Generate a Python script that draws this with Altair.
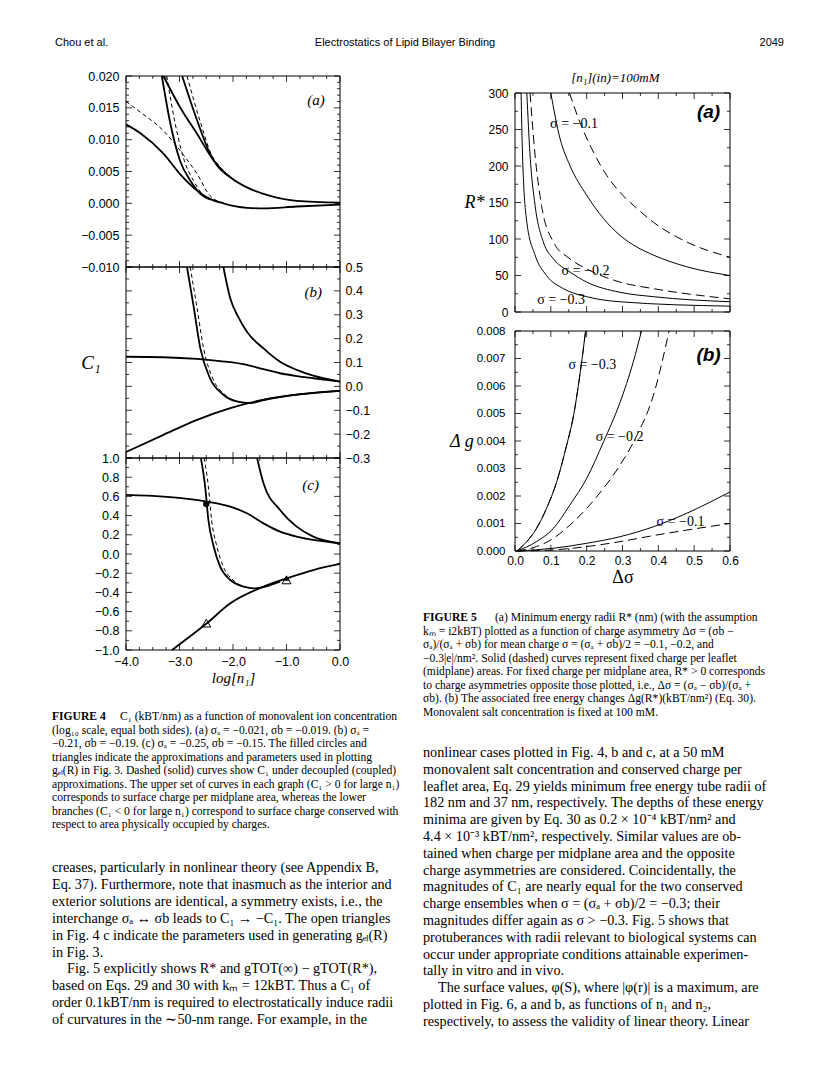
import altair as alt
import numpy as np
import pandas as pd

W, H = 800, 1062
SANS = "Liberation Sans"
SERIF = "Liberation Serif"

# ---------------- Figure 4 data (x = log[n1], y = C1) ----------------
f4a_lo_x = [-4.0, -3.73, -3.30, -2.99, -2.67, -2.43, -2.18, -1.74, -1.43, -0.81, 0.0]
f4a_lo_y = [0.0124, 0.0110, 0.0078, 0.0046, 0.0020, 0.0007, 0.0000, -0.0007, -0.0008, -0.0005, -0.0002]
f4a_lod_x = [-4.0, -3.73, -3.30, -2.99, -2.67, -2.43, -2.18]
f4a_lod_y = [0.0160, 0.0143, 0.0114, 0.0083, 0.0046, 0.0012, 0.0001]
f4a_st_x = [-3.33, -3.17, -2.99, -2.80, -2.61, -2.43]
f4a_st_y = [0.0200, 0.0125, 0.0067, 0.0036, 0.0015, 0.0006]
f4a_std_x = [-3.24, -3.08, -2.91, -2.74, -2.58, -2.43]
f4a_std_y = [0.0200, 0.0125, 0.0067, 0.0036, 0.0015, 0.0006]
f4a_up_x = [-3.30, -2.99, -2.67, -2.36, -2.05, -1.74, -1.43, -0.81, 0.0]
f4a_up_y = [0.0200, 0.0151, 0.0109, 0.0067, 0.0041, 0.0025, 0.0015, 0.0004, 0.0001]
f4a_up2_x = [-2.95, -2.67, -2.43, -2.30, -2.05]
f4a_up2_y = [0.0200, 0.0130, 0.0078, 0.0060, 0.0041]
f4a_upd_x = [-2.86, -2.60, -2.40, -2.25, -2.05]
f4a_upd_y = [0.0200, 0.0125, 0.0076, 0.0058, 0.0041]

f4b_flat_x = [-4.0, -3.3, -2.67, -2.2, -1.74, -1.43, -1.12, -0.81, -0.5, 0.0]
f4b_flat_y = [0.124, 0.122, 0.115, 0.105, 0.090, 0.072, 0.055, 0.043, 0.034, 0.020]
f4b_up_x = [-2.18, -2.05, -1.90, -1.74, -1.43, -1.12, -0.81, -0.5, 0.0]
f4b_up_y = [0.5, 0.368, 0.290, 0.229, 0.159, 0.103, 0.069, 0.045, 0.020]
f4b_mid_x = [-2.86, -2.74, -2.61, -2.43, -2.18, -1.93, -1.68, -1.43, -1.12, -0.81, -0.5, 0.0]
f4b_mid_y = [0.5, 0.34, 0.159, 0.034, -0.035, -0.063, -0.070, -0.058, -0.045, -0.035, -0.027, -0.019]
f4b_midd_x = [-2.80, -2.68, -2.55, -2.38, -2.15, -1.93, -1.68]
f4b_midd_y = [0.5, 0.34, 0.159, 0.034, -0.035, -0.063, -0.070]
f4b_lo_x = [-4.0, -3.3, -2.67, -2.05, -1.43, -0.81, 0.0]
f4b_lo_y = [-0.275, -0.203, -0.140, -0.091, -0.056, -0.035, -0.019]

f4c_flat_x = [-4.0, -3.3, -2.49, -2.05, -1.74, -1.43, -1.12, -0.81, -0.5, 0.0]
f4c_flat_y = [0.615, 0.597, 0.545, 0.493, 0.424, 0.319, 0.233, 0.181, 0.146, 0.111]
f4c_up_x = [-1.55, -1.43, -1.12, -0.81, -0.5, 0.0]
f4c_up_y = [1.0, 0.736, 0.458, 0.285, 0.181, 0.111]
f4c_mid_x = [-2.60, -2.52, -2.46, -2.36, -2.24, -2.05, -1.80, -1.62, -1.30, -1.12]
f4c_mid_y = [1.0, 0.70, 0.354, 0.076, -0.132, -0.271, -0.340, -0.358, -0.323, -0.288]
f4c_midd_x = [-2.54, -2.46, -2.40, -2.30, -2.18, -2.00, -1.80, -1.62]
f4c_midd_y = [1.0, 0.70, 0.354, 0.076, -0.132, -0.271, -0.340, -0.358]
f4c_lo_x = [-3.14, -2.49, -2.05, -1.43, -0.995, -0.5, 0.0]
f4c_lo_y = [-1.0, -0.722, -0.514, -0.340, -0.253, -0.167, -0.104]
f4c_circle_x = [-2.5]
f4c_circle_y = [0.52]
f4c_tri_open_x = [-2.5, -1.0]
f4c_tri_open_y = [-0.72, -0.27]
f4c_tri_fill_x = [-1.0]
f4c_tri_fill_y = [-0.25]

# ---------------- Figure 5 data (x = delta sigma) ----------------
f5a_s1_x = [0.100, 0.126, 0.153, 0.200, 0.247, 0.293, 0.340, 0.386, 0.479, 0.600]
f5a_s1_y = [300, 237, 201, 160, 128, 105, 89, 78, 62, 50]
f5a_d1_x = [0.152, 0.181, 0.219, 0.256, 0.293, 0.340, 0.386, 0.479, 0.600]
f5a_d1_y = [300, 260, 219, 187, 164, 142, 123, 96, 75]
f5a_s2_x = [0.033, 0.042, 0.056, 0.079, 0.107, 0.153, 0.200, 0.293, 0.386, 0.600]
f5a_s2_y = [300, 215, 146, 96, 73, 55, 41, 27, 21, 14]
f5a_d2_x = [0.042, 0.056, 0.074, 0.107, 0.153, 0.200, 0.293, 0.386, 0.600]
f5a_d2_y = [300, 215, 146, 96, 73, 59, 41, 32, 18]
f5a_s3_x = [0.017, 0.021, 0.033, 0.056, 0.088, 0.135, 0.200, 0.293, 0.600]
f5a_s3_y = [300, 215, 123, 78, 50, 32, 21, 14, 8]

f5b_s3_x = [0.005, 0.033, 0.060, 0.088, 0.116, 0.144, 0.163, 0.181, 0.197]
f5b_s3_y = [0.0, 0.00034, 0.00082, 0.00155, 0.0025, 0.00384, 0.0049, 0.0064, 0.008]
f5b_s2_x = [0.005, 0.060, 0.107, 0.153, 0.200, 0.247, 0.293, 0.330, 0.353]
f5b_s2_y = [0.0, 0.00034, 0.00082, 0.00167, 0.00264, 0.00397, 0.0054, 0.00687, 0.008]
f5b_d2_x = [0.005, 0.060, 0.107, 0.153, 0.200, 0.247, 0.293, 0.340, 0.386, 0.430]
f5b_d2_y = [0.0, 0.00016, 0.00046, 0.00094, 0.00155, 0.00228, 0.00312, 0.0042, 0.00565, 0.008]
f5b_s1_x = [0.005, 0.107, 0.200, 0.293, 0.386, 0.479, 0.600]
f5b_s1_y = [0.0, 0.0001, 0.00028, 0.00052, 0.00088, 0.00137, 0.00215]
f5b_d1_x = [0.005, 0.107, 0.200, 0.293, 0.386, 0.479, 0.600]
f5b_d1_y = [0.0, 0.00004, 0.00016, 0.00034, 0.00056, 0.00076, 0.00100]

f5a_lab_text = ["σ = −0.1", "σ = −0.2", "σ = −0.3"]
f5a_lab_x = [0.098, 0.130, 0.062]
f5a_lab_y = [258, 56, 16]
f5b_lab_text = ["σ = −0.3", "σ = −0.2", "σ = −0.1"]
f5b_lab_x = [0.149, 0.225, 0.395]
f5b_lab_y = [0.00676, 0.00415, 0.00104]

# ---------------- texts ----------------
header = ["Chou et al.", "Electrostatics of Lipid Bilayer Binding", "2049"]
cap4_lead = "FIGURE 4"
cap4 = [
    "C₁ (kBT/nm) as a function of monovalent ion concentration",
    "(log₁₀ scale, equal both sides). (a) σₐ = −0.021, σb = −0.019. (b) σₐ =",
    "−0.21, σb = −0.19. (c) σₐ = −0.25, σb = −0.15. The filled circles and",
    "triangles indicate the approximations and parameters used in plotting",
    "gₑₗ(R) in Fig. 3. Dashed (solid) curves show C₁ under decoupled (coupled)",
    "approximations. The upper set of curves in each graph (C₁ > 0 for large n₁)",
    "corresponds to surface charge per midplane area, whereas the lower",
    "branches (C₁ < 0 for large n₁) correspond to surface charge conserved with",
    "respect to area physically occupied by charges.",
]
body4 = [
    "creases, particularly in nonlinear theory (see Appendix B,",
    "Eq. 37). Furthermore, note that inasmuch as the interior and",
    "exterior solutions are identical, a symmetry exists, i.e., the",
    "interchange σₐ ↔ σb leads to C₁ → −C₁. The open triangles",
    "in Fig. 4 c indicate the parameters used in generating gₑₗ(R)",
    "in Fig. 3.",
    "Fig. 5 explicitly shows R* and gTOT(∞) − gTOT(R*),",
    "based on Eqs. 29 and 30 with kₘ = 12kBT. Thus a C₁ of",
    "order 0.1kBT/nm is required to electrostatically induce radii",
    "of curvatures in the ∼50-nm range. For example, in the",
]
body4_indented = [6]
cap5_lead = "FIGURE 5"
cap5 = [
    "(a) Minimum energy radii R* (nm) (with the assumption",
    "kₘ = i2kBT) plotted as a function of charge asymmetry Δσ = (σb −",
    "σₐ)/(σₐ + σb) for mean charge σ = (σₐ + σb)/2 = −0.1, −0.2, and",
    "−0.3|e|/nm². Solid (dashed) curves represent fixed charge per leaflet",
    "(midplane) areas. For fixed charge per midplane area, R* > 0 corresponds",
    "to charge asymmetries opposite those plotted, i.e., Δσ = (σₐ − σb)/(σₐ +",
    "σb). (b) The associated free energy changes Δg(R*)(kBT/nm²) (Eq. 30).",
    "Monovalent salt concentration is fixed at 100 mM.",
]
body5 = [
    "nonlinear cases plotted in Fig. 4, b and c, at a 50 mM",
    "monovalent salt concentration and conserved charge per",
    "leaflet area, Eq. 29 yields minimum free energy tube radii of",
    "182 nm and 37 nm, respectively. The depths of these energy",
    "minima are given by Eq. 30 as 0.2 × 10⁻⁴ kBT/nm² and",
    "4.4 × 10⁻³ kBT/nm², respectively. Similar values are ob-",
    "tained when charge per midplane area and the opposite",
    "charge asymmetries are considered. Coincidentally, the",
    "magnitudes of C₁ are nearly equal for the two conserved",
    "charge ensembles when σ = (σₐ + σb)/2 = −0.3; their",
    "magnitudes differ again as σ > −0.3. Fig. 5 shows that",
    "protuberances with radii relevant to biological systems can",
    "occur under appropriate conditions attainable experimen-",
    "tally in vitro and in vivo.",
    "The surface values, φ(S), where |φ(r)| is a maximum, are",
    "plotted in Fig. 6, a and b, as functions of n₁ and n₂,",
    "respectively, to assess the validity of linear theory. Linear",
]
body5_indented = [14]

# ---------------- layout (pixels inside the chart) ----------------
P4A = dict(x0=118, x1=332, yt=68, yb=259, xd=[-4.0, 0.0], yd=[-0.010, 0.020])
P4B = dict(x0=118, x1=332, yt=259, yb=450, xd=[-4.0, 0.0], yd=[-0.3, 0.5])
P4C = dict(x0=118, x1=332, yt=450, yb=642, xd=[-4.0, 0.0], yd=[-1.0, 1.0])
P5A = dict(x0=507, x1=722, yt=85, yb=304, xd=[0.0, 0.6], yd=[0.0, 300.0])
P5B = dict(x0=507, x1=722, yt=323, yb=543, xd=[0.0, 0.6], yd=[0.0, 0.008])
CAP_FS, BODY_FS = 11.6, 14.2
CAP_LH, BODY_LH = 13.5, 16.9
INDENT = 15


def xs_(p):
    return alt.Scale(domain=p["xd"], range=[p["x0"], p["x1"]], nice=False, zero=False)


def ys_(p):
    return alt.Scale(domain=p["yd"], range=[p["yb"], p["yt"]], nice=False, zero=False)


def arange(a, b, step):
    n = int(round((b - a) / step))
    return [float(round(a + k * step, 6)) + 0.0 for k in range(n + 1)]


def axis(orient, p, **kw):
    off = {"left": -p["x0"], "right": p["x1"] - W, "bottom": p["yb"] - H, "top": -p["yt"]}[orient]
    base = dict(orient=orient, offset=off, ticks=False, tickSize=0, domain=False, grid=False,
                labelFont=SANS, labelColor="black", labelFlush=False, labelOverlap=False,
                titleColor="black", titleFontWeight="normal")
    base.update(kw)
    return alt.Axis(**base)


def series_df(pairs):
    rows = []
    for name, xv, yv in pairs:
        for a, b in zip(xv, yv):
            rows.append({"id": name, "x": a, "y": b})
    return pd.DataFrame(rows)


def lines(p, pairs, width, dash=None):
    kw = dict(color="black", strokeWidth=width, interpolate="monotone")
    if dash:
        kw["strokeDash"] = dash
    return alt.Chart(series_df(pairs)).mark_line(**kw).encode(
        x=alt.X("x:Q", scale=xs_(p), axis=None),
        y=alt.Y("y:Q", scale=ys_(p), axis=None),
        detail="id:N",
    )


def frame(p, xaxis=None, yaxis=None):
    df = pd.DataFrame({"xa": [p["xd"][0]], "xb": [p["xd"][1]], "ya": [p["yd"][0]], "yb": [p["yd"][1]]})
    return alt.Chart(df).mark_rect(fill="white", fillOpacity=0, stroke="black", strokeWidth=1).encode(
        x=alt.X("xa:Q", scale=xs_(p), axis=xaxis), x2="xb:Q",
        y=alt.Y("ya:Q", scale=ys_(p), axis=yaxis), y2="yb:Q",
    )


def split(dom, major, minor):
    M = arange(dom[0], dom[1], major)
    m = [v for v in arange(dom[0], dom[1], minor) if all(abs(v - u) > 1e-9 for u in M)]
    return M, m


def vticks(p, major, minor, yaxis=None):
    M, m = split(p["yd"], major, minor)
    rows = []
    for vals, L in ((M, 6), (m, 3)):
        for v in vals:
            rows.append({"v": v, "a": p["x0"], "b": p["x0"] + L})
            rows.append({"v": v, "a": p["x1"] - L, "b": p["x1"]})
    return alt.Chart(pd.DataFrame(rows)).mark_rule(color="black", strokeWidth=0.8).encode(
        y=alt.Y("v:Q", scale=ys_(p), axis=yaxis),
        x=alt.X("a:Q", scale=None, axis=None), x2="b:Q",
    )


def hticks(p, major, minor):
    M, m = split(p["xd"], major, minor)
    rows = []
    for vals, L in ((M, 6), (m, 3)):
        for v in vals:
            rows.append({"v": v, "a": p["yt"], "b": p["yt"] + L})
            rows.append({"v": v, "a": p["yb"] - L, "b": p["yb"]})
    return alt.Chart(pd.DataFrame(rows)).mark_rule(color="black", strokeWidth=0.8).encode(
        x=alt.X("v:Q", scale=xs_(p), axis=None),
        y=alt.Y("a:Q", scale=None, axis=None), y2="b:Q",
    )


def notes(p, xv, yv, texts, font, size, style="normal", weight="normal", align="center"):
    df = pd.DataFrame({"x": xv, "y": yv, "t": texts})
    return alt.Chart(df).mark_text(font=font, fontSize=size, fontStyle=style, fontWeight=weight,
                                   align=align, baseline="middle", color="black").encode(
        x=alt.X("x:Q", scale=xs_(p), axis=None),
        y=alt.Y("y:Q", scale=ys_(p), axis=None),
        text="t:N",
    )


def para(items, x, y0, lh, size, weight="normal"):
    """items: list of (line index, text)."""
    df = pd.DataFrame({"i": [i for i, _ in items], "t": [t for _, t in items]})
    return alt.Chart(df).mark_text(font=SERIF, fontSize=size, fontWeight=weight, align="left",
                                   baseline="middle", color="black").encode(
        x=alt.value(x),
        y=alt.Y("i:Q", scale=alt.Scale(domain=[0, 20], range=[y0, y0 + 20 * lh], nice=False, zero=False),
                axis=None),
        text="t:N",
    )


def block(texts, indented, x, y0, lh, size):
    plain = [(i, t) for i, t in enumerate(texts) if i not in indented]
    ind = [(i, t) for i, t in enumerate(texts) if i in indented]
    out = [para(plain, x, y0, lh, size)]
    if ind:
        out.append(para(ind, x + INDENT, y0, lh, size))
    return out


def htext(t, x, y, align):
    return alt.Chart(pd.DataFrame({"t": [t]})).mark_text(
        font=SANS, fontSize=11, align=align, baseline="middle", color="black"
    ).encode(x=alt.value(x), y=alt.value(y), text="t:N")


layers = []

# ---- header ----
layers += [htext(header[0], 47, 35, "left"), htext(header[1], 397, 35, "center"), htext(header[2], 776, 35, "right")]

# ---- Figure 4 (a) ----
layers.append(frame(P4A, yaxis=axis("left", P4A, values=arange(-0.01, 0.02, 0.005), format=".3f",
                                     labelFontSize=12.5, labelPadding=7, title=None)))
layers.append(vticks(P4A, 0.005, 0.001))
layers.append(hticks(P4A, 1.0, 0.25))
layers.append(lines(P4A, [("lo", f4a_lo_x, f4a_lo_y), ("st", f4a_st_x, f4a_st_y),
                          ("up", f4a_up_x, f4a_up_y), ("up2", f4a_up2_x, f4a_up2_y)], 1.8))
layers.append(lines(P4A, [("lod", f4a_lod_x, f4a_lod_y), ("std", f4a_std_x, f4a_std_y),
                          ("upd", f4a_upd_x, f4a_upd_y)], 1.0, [4, 3]))
layers.append(notes(P4A, [-0.45], [0.0162], ["(a)"], SERIF, 15, style="italic"))

# ---- Figure 4 (b) ----
layers.append(frame(P4B, yaxis=axis("right", P4B, values=arange(-0.3, 0.5, 0.1), format=".1f",
                                     labelFontSize=12.5, labelPadding=5, title=None)))
layers.append(vticks(P4B, 0.1, 0.05, yaxis=axis("left", P4B, labels=False, labelPadding=0, title="C₁",
                                                 titleFont=SERIF, titleFontStyle="italic", titleFontSize=19,
                                                 titleAngle=0, titleAlign="right", titleBaseline="middle",
                                                 titlePadding=26)))
layers.append(hticks(P4B, 1.0, 0.25))
layers.append(lines(P4B, [("flat", f4b_flat_x, f4b_flat_y), ("up", f4b_up_x, f4b_up_y),
                          ("mid", f4b_mid_x, f4b_mid_y), ("lo", f4b_lo_x, f4b_lo_y)], 1.8))
layers.append(lines(P4B, [("midd", f4b_midd_x, f4b_midd_y)], 1.0, [4, 3]))
layers.append(notes(P4B, [-0.5], [0.395], ["(b)"], SERIF, 15, style="italic"))

# ---- Figure 4 (c) ----
layers.append(frame(P4C,
                    xaxis=axis("bottom", P4C, values=arange(-4.0, 0.0, 1.0), format=".1f", labelFontSize=12.5,
                               labelPadding=5, title="log[n₁]", titleFont=SERIF, titleFontStyle="italic",
                               titleFontSize=15, titlePadding=3),
                    yaxis=axis("left", P4C, values=arange(-1.0, 1.0, 0.2), format=".1f",
                               labelFontSize=12.5, labelPadding=7, title=None)))
layers.append(vticks(P4C, 0.2, 0.1))
layers.append(hticks(P4C, 1.0, 0.25))
layers.append(lines(P4C, [("flat", f4c_flat_x, f4c_flat_y), ("up", f4c_up_x, f4c_up_y),
                          ("mid", f4c_mid_x, f4c_mid_y), ("lo", f4c_lo_x, f4c_lo_y)], 1.8))
layers.append(lines(P4C, [("midd", f4c_midd_x, f4c_midd_y)], 1.0, [4, 3]))
layers.append(alt.Chart(pd.DataFrame({"x": f4c_circle_x, "y": f4c_circle_y})).mark_point(
    shape="circle", filled=True, size=40, color="black", opacity=1).encode(
    x=alt.X("x:Q", scale=xs_(P4C), axis=None), y=alt.Y("y:Q", scale=ys_(P4C), axis=None)))
layers.append(alt.Chart(pd.DataFrame({"x": f4c_tri_open_x, "y": f4c_tri_open_y})).mark_point(
    shape="triangle-up", filled=False, size=80, color="black", strokeWidth=1, opacity=1).encode(
    x=alt.X("x:Q", scale=xs_(P4C), axis=None), y=alt.Y("y:Q", scale=ys_(P4C), axis=None)))
layers.append(alt.Chart(pd.DataFrame({"x": f4c_tri_fill_x, "y": f4c_tri_fill_y})).mark_point(
    shape="triangle-up", filled=True, size=40, color="black", opacity=1).encode(
    x=alt.X("x:Q", scale=xs_(P4C), axis=None), y=alt.Y("y:Q", scale=ys_(P4C), axis=None)))
layers.append(notes(P4C, [-0.55], [0.72], ["(c)"], SERIF, 15, style="italic"))

# ---- Figure 5 (a) ----
layers.append(frame(P5A, yaxis=axis("left", P5A, values=arange(0, 300, 50), format="d", labelFontSize=12,
                                     labelPadding=7, title="R*", titleFont=SERIF, titleFontStyle="italic",
                                     titleFontSize=18, titleAngle=0, titleAlign="right",
                                     titleBaseline="middle", titlePadding=4)))
layers.append(vticks(P5A, 50, 25))
layers.append(hticks(P5A, 0.1, 0.05))
layers.append(lines(P5A, [("s1", f5a_s1_x, f5a_s1_y), ("s2", f5a_s2_x, f5a_s2_y),
                          ("s3", f5a_s3_x, f5a_s3_y)], 1.0))
layers.append(lines(P5A, [("d1", f5a_d1_x, f5a_d1_y), ("d2", f5a_d2_x, f5a_d2_y)], 1.0, [9, 5]))
layers.append(notes(P5A, f5a_lab_x, f5a_lab_y, f5a_lab_text, SERIF, 14, align="left"))
layers.append(notes(P5A, [0.54], [274], ["(a)"], SANS, 19, style="italic", weight="bold"))
layers.append(notes(P5A, [0.28], [320.5], ["[n₁](in)=100mM"], SERIF, 13, style="italic"))

# ---- Figure 5 (b) ----
layers.append(frame(P5B,
                    xaxis=axis("bottom", P5B, values=arange(0.0, 0.6, 0.1), format=".1f", labelFontSize=12,
                               labelPadding=4, title="Δσ", titleFont=SERIF, titleFontSize=18, titlePadding=2),
                    yaxis=axis("left", P5B, values=arange(0.0, 0.008, 0.001), format=".3f", labelFontSize=11.5,
                               labelPadding=10, title="Δ g", titleFont=SERIF, titleFontStyle="italic",
                               titleFontSize=18, titleAngle=0, titleAlign="right", titleBaseline="middle",
                               titlePadding=3)))
layers.append(vticks(P5B, 0.001, 0.0005))
layers.append(hticks(P5B, 0.1, 0.05))
layers.append(lines(P5B, [("s3", f5b_s3_x, f5b_s3_y), ("s2", f5b_s2_x, f5b_s2_y),
                          ("s1", f5b_s1_x, f5b_s1_y)], 1.0))
layers.append(lines(P5B, [("d3", f5b_s3_x, f5b_s3_y), ("d2", f5b_d2_x, f5b_d2_y),
                          ("d1", f5b_d1_x, f5b_d1_y)], 1.0, [9, 5]))
layers.append(notes(P5B, f5b_lab_x, f5b_lab_y, f5b_lab_text, SERIF, 14, align="left"))
layers.append(notes(P5B, [0.54], [0.00714], ["(b)"], SANS, 19, style="italic", weight="bold"))

# ---- captions and body text ----
layers.append(para([(0, cap4_lead)], 44, 709, CAP_LH, CAP_FS, weight="bold"))
layers.append(para([(0, cap4[0])], 112, 709, CAP_LH, CAP_FS))
layers.append(para(list(enumerate(cap4))[1:], 44, 709, CAP_LH, CAP_FS))
layers += block(body4, body4_indented, 44, 860, BODY_LH, BODY_FS)
layers.append(para([(0, cap5_lead)], 415, 610, CAP_LH, CAP_FS, weight="bold"))
layers.append(para([(0, cap5[0])], 487, 610, CAP_LH, CAP_FS))
layers.append(para(list(enumerate(cap5))[1:], 415, 610, CAP_LH, CAP_FS))
layers += block(body5, body5_indented, 415, 745, 16.8, BODY_FS)

chart = alt.layer(*layers).resolve_scale(x="independent", y="independent").resolve_axis(
    x="independent", y="independent"
).properties(
    width=W, height=H, padding=0, autosize=alt.AutoSizeParams(type="none"), background="white"
).configure_view(stroke="transparent", strokeWidth=0)

chart.save("out.html", embed_options={"renderer": "svg", "actions": False})
